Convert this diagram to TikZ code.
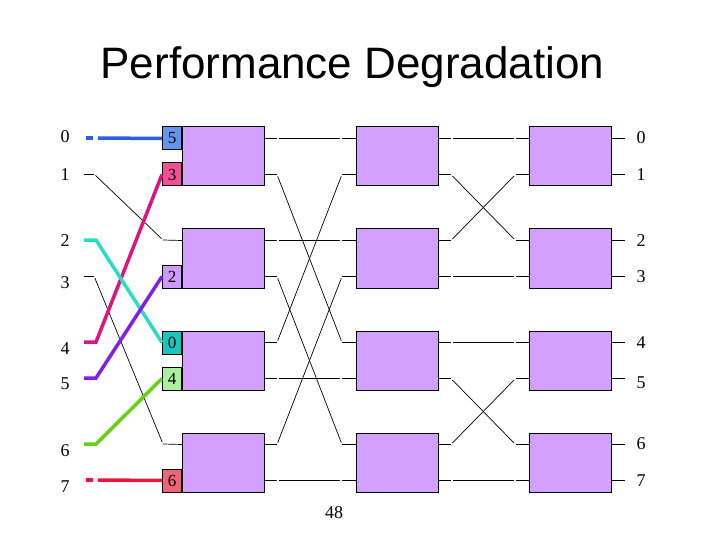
\documentclass[tikz,border=0pt]{standalone}
\usepackage{fontspec}
\setmainfont{Liberation Serif}
\newfontfamily\titlefont{Liberation Sans}
\usetikzlibrary{positioning}

\definecolor{boxlilac}{RGB}{212,160,255}
\definecolor{wblue}{RGB}{45,95,230}
\definecolor{tblue}{RGB}{100,150,240}
\definecolor{wpink}{RGB}{220,20,130}
\definecolor{tpink}{RGB}{240,80,150}
\definecolor{wteal}{RGB}{40,220,200}
\definecolor{tteal}{RGB}{20,200,190}
\definecolor{wpurple}{RGB}{130,30,230}
\definecolor{tpurple}{RGB}{205,155,250}
\definecolor{wgreen}{RGB}{100,210,20}
\definecolor{tgreen}{RGB}{170,240,160}
\definecolor{wred}{RGB}{240,20,60}
\definecolor{tred}{RGB}{240,100,120}

\tikzset{
  swbox/.style={draw=black,fill=boxlilac,line width=1pt,minimum width=82pt,minimum height=59pt,inner sep=0pt},
  tagbox/.style={draw=black,line width=1pt,minimum width=19pt,minimum height=23pt,inner sep=0pt,font=\fontsize{17}{17}\selectfont},
  wire/.style={line width=0.7pt},
  gapwire/.style={wire,shorten >=2pt,shorten <=2pt},
  hot/.style={line width=3.5pt},
  numlabel/.style={font=\fontsize{18}{18}\selectfont,inner sep=0pt}
}

\begin{document}
\begin{tikzpicture}[x=1pt,y=-1pt]
\useasboundingbox (0,0) rectangle (720,540);

\node[font=\titlefont\fontsize{44}{44}\selectfont,anchor=base] (title) at (352.5,79) {Performance Degradation};

% switch boxes and their port stubs
\foreach \c/\x in {1/223,2/397,3/570.5}
  \foreach \r/\y in {1/156.5,2/258.5,3/360.5,4/462.5} {
    \node[swbox] (b\c\r) at (\x,\y) {};
    \coordinate (b\c\r-l0) at (\x-41,\y-18);
    \coordinate (b\c\r-l1) at (\x-41,\y+18);
    \coordinate (b\c\r-r0) at (\x+41,\y-18);
    \coordinate (b\c\r-r1) at (\x+41,\y+18);
    \coordinate (b\c\r-L0) at (\x-55,\y-18);
    \coordinate (b\c\r-L1) at (\x-55,\y+18);
    \coordinate (b\c\r-R0) at (\x+54,\y-18);
    \coordinate (b\c\r-R1) at (\x+54,\y+18);
    \draw[wire] (b\c\r-r0) -- (b\c\r-R0);
    \draw[wire] (b\c\r-r1) -- (b\c\r-R1);
  }
\foreach \c in {2,3}
  \foreach \r in {1,2,3,4} {
    \draw[wire] (b\c\r-L0) -- (b\c\r-l0);
    \draw[wire] (b\c\r-L1) -- (b\c\r-l1);
  }
\coordinate (b12-L0) at (163,240);
\coordinate (b14-L0) at (163,444);
\draw[wire] (b12-L0) -- (b12-l0);
\draw[wire] (b14-L0) -- (b14-l0);

% stage 1 -> stage 2
\draw[gapwire] (b11-R0) -- (b21-L0);
\draw[gapwire] (b11-R1) -- (b23-L0);
\draw[gapwire] (b12-R0) -- (b22-L0);
\draw[gapwire] (b12-R1) -- (b24-L0);
\draw[gapwire] (b13-R0) -- (b21-L1);
\draw[gapwire] (b13-R1) -- (b23-L1);
\draw[gapwire] (b14-R0) -- (b22-L1);
\draw[gapwire] (b14-R1) -- (b24-L1);

% stage 2 -> stage 3
\draw[gapwire] (b21-R0) -- (b31-L0);
\draw[gapwire] (b21-R1) -- (b32-L0);
\draw[gapwire] (b22-R0) -- (b31-L1);
\draw[gapwire] (b22-R1) -- (b32-L1);
\draw[gapwire] (b23-R0) -- (b33-L0);
\draw[gapwire] (b23-R1) -- (b34-L0);
\draw[gapwire] (b24-R0) -- (b33-L1);
\draw[gapwire] (b24-R1) -- (b34-L1);

% tags on the first stage
\node[tagbox,fill=tblue,anchor=east] (t5) at (b11-l0) {5};
\node[tagbox,fill=tpink,anchor=east] (t3) at (b11-l1) {3};
\node[tagbox,fill=tpurple,anchor=east] (t2) at (b12-l1) {2};
\node[tagbox,fill=tteal,anchor=east] (t0) at (b13-l0) {0};
\node[tagbox,fill=tgreen,anchor=east] (t4) at (b13-l1) {4};
\node[tagbox,fill=tred,anchor=east] (t6) at (b14-l1) {6};

% inputs and outputs
\foreach \i/\py/\ly in {0/138/137,1/174/175,2/240/241,3/276/283,4/342/349,5/378/384,6/444/451,7/480/487} {
  \coordinate (in\i) at (84,\py);
  \coordinate (kn\i) at (96,\py);
  \node[numlabel] (lin\i) at (65,\ly) {\i};
}
\foreach \i/\ly in {0/138,1/175,2/241,3/277,4/343,5/383,6/444,7/481}
  \node[numlabel] (lout\i) at (641,\ly) {\i};

\draw[wire] (in1) -- ([xshift=10pt]in1);
\draw[gapwire] ([xshift=10pt]in1) -- (b12-L0);
\draw[wire] (in3) -- ([xshift=10pt]in3);
\draw[gapwire] ([xshift=10pt]in3) -- (b14-L0);

\draw[hot,wblue] ([xshift=2pt]in0) -- ([xshift=9pt]in0);
\draw[hot,wblue] ([xshift=14pt]in0) -- (t5.west);
\draw[hot,wred] ([xshift=2pt]in7) -- ([xshift=9pt]in7);
\draw[hot,wred] ([xshift=14pt]in7) -- (t6.west);
\draw[hot,wpink] (in4) -- (kn4) -- (t3.west);
\draw[hot,wteal] (in2) -- (kn2) -- (t0.west);
\draw[hot,wpurple] (in5) -- (kn5) -- (t2.west);
\draw[hot,wgreen] (in6) -- (kn6) -- (t4.west);

\node[numlabel] (page) at (334,513) {48};
\end{tikzpicture}
\end{document}
